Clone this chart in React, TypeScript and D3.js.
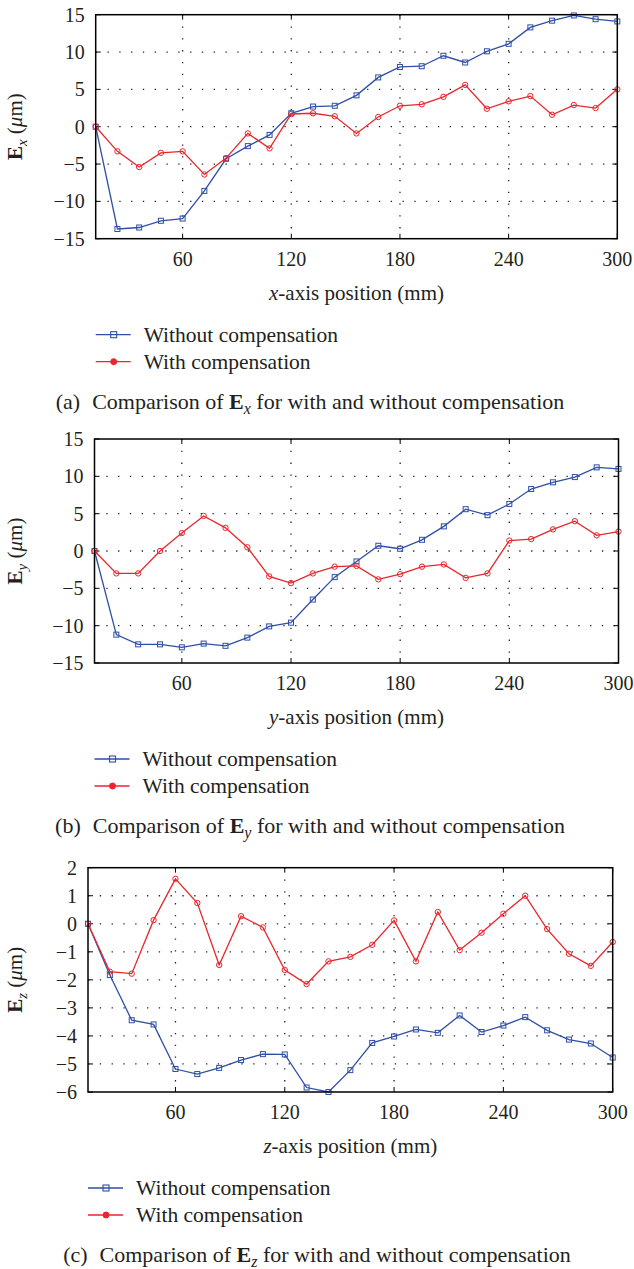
import React from "react";
import * as d3 from "d3";

// positions along each axis (mm)
const positions = [12, 24, 36, 48, 60, 72, 84, 96, 108, 120, 132, 144, 156, 168, 180, 192, 204, 216, 228, 240, 252, 264, 276, 288, 300];
const xTicks = [60, 120, 180, 240, 300];

// panel (a) E_x
const exWithout = [0, -13.7, -13.5, -12.6, -12.3, -8.6, -4.3, -2.6, -1.1, 1.8, 2.7, 2.8, 4.2, 6.6, 8.0, 8.1, 9.5, 8.6, 10.1, 11.1, 13.3, 14.2, 14.9, 14.4, 14.1];
const exWith = [0, -3.3, -5.4, -3.5, -3.3, -6.4, -4.2, -0.9, -2.9, 1.7, 1.8, 1.4, -0.9, 1.3, 2.8, 3.0, 4.0, 5.6, 2.4, 3.4, 4.1, 1.6, 2.9, 2.5, 5.0];
// panel (b) E_y
const eyWithout = [0, -11.2, -12.5, -12.5, -12.9, -12.4, -12.7, -11.6, -10.1, -9.6, -6.5, -3.5, -1.4, 0.7, 0.3, 1.5, 3.3, 5.6, 4.8, 6.3, 8.3, 9.2, 9.9, 11.2, 11.0];
const eyWith = [0, -3.0, -3.0, 0.0, 2.4, 4.7, 3.1, 0.5, -3.4, -4.3, -3.0, -2.1, -2.0, -3.8, -3.1, -2.1, -1.8, -3.6, -3.0, 1.4, 1.6, 2.9, 4.0, 2.1, 2.6];
// panel (c) E_z
const ezWithout = [0, -1.83, -3.44, -3.59, -5.18, -5.36, -5.14, -4.86, -4.65, -4.66, -5.84, -6.0, -5.22, -4.25, -4.02, -3.77, -3.89, -3.27, -3.86, -3.63, -3.33, -3.8, -4.13, -4.27, -4.77];
const ezWith = [0, -1.71, -1.78, 0.13, 1.6, 0.74, -1.47, 0.27, -0.13, -1.65, -2.15, -1.34, -1.18, -0.75, 0.12, -1.34, 0.42, -0.94, -0.32, 0.36, 1.0, -0.19, -1.07, -1.5, -0.65];

const legendLabels = ["Without compensation", "With compensation"];
const BLUE = "#2f4fa6";
const RED = "#e8262c";
const FONT = "Liberation Serif, Times New Roman, serif";
const txt = { fontFamily: FONT };

type PanelProps = {
  left: number;
  right: number;
  top: number;
  bottom: number;
  yDomain: [number, number];
  yStep: number;
  without: number[];
  withC: number[];
  sub: string;
  letter: string;
  capX: number;
};

const Panel: React.FC<PanelProps> = ({ left, right, top, bottom, yDomain, yStep, without, withC, sub, letter, capX }) => {
  const x = d3.scaleLinear().domain([12, 300]).range([left, right]);
  const y = d3.scaleLinear().domain(yDomain).range([bottom, top]);
  const yTicks = d3.range(yDomain[0], yDomain[1] + yStep / 2, yStep);

  const line = d3
    .line<number>()
    .x((_, i) => x(positions[i]))
    .y((d) => y(d));

  const midY = (top + bottom) / 2;
  const tl = 5;

  return (
    <g fill="#231f20">
      {/* dotted grid */}
      {xTicks.slice(0, -1).map((t) => (
        <line key={"gx" + t} x1={x(t)} x2={x(t)} y1={top} y2={bottom} stroke="#222" strokeWidth={1.3} strokeDasharray="1.3 10.5" />
      ))}
      {yTicks.slice(1, -1).map((t) => (
        <line key={"gy" + t} x1={left} x2={right} y1={y(t)} y2={y(t)} stroke="#222" strokeWidth={1.3} strokeDasharray="1.3 10.5" />
      ))}

      {/* inward ticks on all sides */}
      {xTicks.map((t) => (
        <g key={"tx" + t}>
          <line x1={x(t)} x2={x(t)} y1={bottom} y2={bottom - tl} stroke="#000" />
          <line x1={x(t)} x2={x(t)} y1={top} y2={top + tl} stroke="#000" />
        </g>
      ))}
      {yTicks.map((t) => (
        <g key={"ty" + t}>
          <line x1={left} x2={left + tl} y1={y(t)} y2={y(t)} stroke="#000" />
          <line x1={right} x2={right - tl} y1={y(t)} y2={y(t)} stroke="#000" />
        </g>
      ))}

      {/* series */}
      <path d={line(without) || ""} fill="none" stroke={BLUE} strokeWidth={1.3} />
      {without.map((v, i) => (
        <rect key={"b" + i} x={x(positions[i]) - 2.5} y={y(v) - 2.5} width={5} height={5} fill="none" stroke={BLUE} strokeWidth={1} />
      ))}
      <path d={line(withC) || ""} fill="none" stroke={RED} strokeWidth={1.3} />
      {withC.map((v, i) => (
        <circle key={"r" + i} cx={x(positions[i])} cy={y(v)} r={2.7} fill="none" stroke={RED} strokeWidth={1} />
      ))}

      {/* frame */}
      <rect x={left} y={top} width={right - left} height={bottom - top} fill="none" stroke="#000" strokeWidth={1.5} />

      {/* tick labels */}
      {yTicks.map((t) => (
        <text key={"ly" + t} x={left - 11} y={y(t)} dy="0.35em" textAnchor="end" fontSize={20} style={txt}>
          {t < 0 ? "\u2212" + Math.abs(t) : t}
        </text>
      ))}
      {xTicks.map((t) => (
        <text key={"lx" + t} x={x(t)} y={bottom + 27} textAnchor="middle" fontSize={20} style={txt}>
          {t}
        </text>
      ))}

      {/* y axis title */}
      <text transform={`translate(22,${midY}) rotate(-90)`} textAnchor="middle" fontSize={21} style={txt}>
        <tspan fontWeight="bold">E</tspan>
        <tspan fontStyle="italic" fontSize={15} dy={5}>{sub}</tspan>
        <tspan dy={-5}> (</tspan>
        <tspan fontStyle="italic">μ</tspan>
        <tspan>m)</tspan>
      </text>

      {/* x axis title */}
      <text x={(left + right) / 2} y={bottom + 61} textAnchor="middle" fontSize={21} style={txt}>
        <tspan fontStyle="italic">{sub}</tspan>
        <tspan>-axis position (mm)</tspan>
      </text>

      {/* legend */}
      {legendLabels.map((lab, i) => {
        const ly = bottom + 96 + i * 27;
        const c = i === 0 ? BLUE : RED;
        return (
          <g key={lab}>
            <line x1={left} x2={left + 35} y1={ly} y2={ly} stroke={c} strokeWidth={1.3} />
            {i === 0 ? (
              <rect x={left + 15} y={ly - 3} width={6} height={6} fill="none" stroke={c} strokeWidth={1.1} />
            ) : (
              <circle cx={left + 18} cy={ly} r={3} fill={c} stroke={c} />
            )}
            <text x={left + 48} y={ly} dy="0.33em" fontSize={21.5} style={txt}>
              {lab}
            </text>
          </g>
        );
      })}

      {/* caption */}
      <text x={capX} y={bottom + 170} textAnchor="middle" fontSize={22} style={txt}>
        <tspan>({letter})</tspan>
        <tspan dx={12}>Comparison of </tspan>
        <tspan fontWeight="bold">E</tspan>
        <tspan fontStyle="italic" fontSize={16} dy={5}>{sub}</tspan>
        <tspan dy={-5}> for with and without compensation</tspan>
      </text>
    </g>
  );
};

export default function App() {
  return (
    <svg width={634} height={1269} style={{ position: "absolute", left: 0, top: 0, background: "#fff" }}>
      <rect width={634} height={1269} fill="#fff" />
      <Panel left={95.7} right={617.3} top={14.7} bottom={238.7} yDomain={[-15, 15]} yStep={5} without={exWithout} withC={exWith} sub="x" letter="a" capX={310} />
      <Panel left={94.5} right={618.5} top={439} bottom={663} yDomain={[-15, 15]} yStep={5} without={eyWithout} withC={eyWith} sub="y" letter="b" capX={310} />
      <Panel left={88} right={612.7} top={867.7} bottom={1092} yDomain={[-6, 2]} yStep={1} without={ezWithout} withC={ezWith} sub="z" letter="c" capX={317} />
    </svg>
  );
}
